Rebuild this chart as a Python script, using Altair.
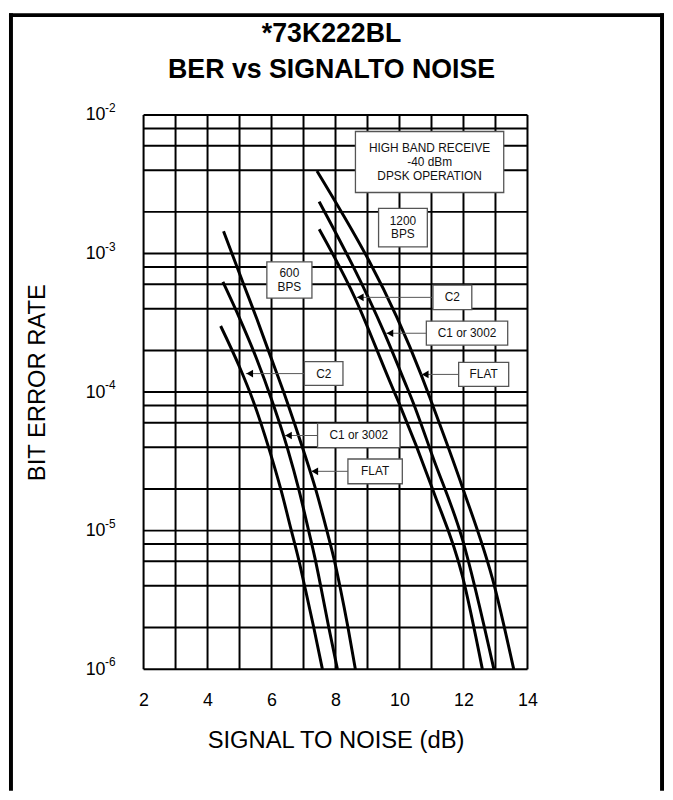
import altair as alt
import pandas as pd

FONT = "Liberation Sans"

# ---------------- data ----------------
# 600 BPS curves (x = S/N in dB, y = bit error rate)
c2_600_x = [4.41, 5.02, 5.43, 5.93, 6.30, 6.62, 6.84, 7.05, 7.32, 7.59]
c2_600_y = [3.0e-4, 1.48e-4, 8.6e-5, 3.84e-5, 1.95e-5, 1.0e-5, 6.3e-6, 3.84e-6, 2.0e-6, 1.0e-6]
c1_600_x = [4.48, 5.01, 5.53, 6.02, 6.38, 6.51, 6.86, 7.16, 7.36, 7.55, 7.79, 8.06]
c1_600_y = [6.25e-4, 3.38e-4, 1.75e-4, 8.6e-5, 4.83e-5, 3.84e-5, 1.95e-5, 1.0e-5, 6.3e-6, 3.84e-6, 2.0e-6, 1.0e-6]
flat_600_x = [4.50, 5.07, 5.54, 5.88, 6.48, 6.99, 7.39, 7.73, 7.95, 8.15, 8.39, 8.62]
flat_600_y = [1.45e-3, 6.5e-4, 3.38e-4, 2.06e-4, 8.6e-5, 3.84e-5, 1.95e-5, 1.0e-5, 6.3e-6, 3.84e-6, 2.0e-6, 1.0e-6]
# 1200 BPS curves
c2_1200_x = [7.49, 8.60, 9.70, 9.96, 11.05, 11.97, 12.59]
c2_1200_y = [1.5e-3, 4.83e-4, 1.19e-4, 8.6e-5, 1.95e-5, 4.67e-6, 1.0e-6]
c1_1200_x = [7.49, 9.54, 10.16, 10.41, 11.05, 11.97, 12.95]
c1_1200_y = [2.37e-3, 2.63e-4, 1.19e-4, 8.6e-5, 3.36e-5, 8.6e-6, 1.0e-6]
flat_1200_x = [7.42, 10.69, 10.99, 11.97, 12.97, 13.57]
flat_1200_y = [3.95e-3, 1.31e-4, 8.6e-5, 2.05e-5, 3.96e-6, 1.0e-6]

series = [
    ("600 C2", c2_600_x, c2_600_y),
    ("600 C1", c1_600_x, c1_600_y),
    ("600 FLAT", flat_600_x, flat_600_y),
    ("1200 C2", c2_1200_x, c2_1200_y),
    ("1200 C1", c1_1200_x, c1_1200_y),
    ("1200 FLAT", flat_1200_x, flat_1200_y),
]

# grid and ticks
x_grid = [2, 3, 4, 5, 6, 7, 8, 9, 10, 11, 12, 13, 14]
y_grid = [1e-6, 2e-6, 4e-6, 6e-6, 8e-6,
          1e-5, 2e-5, 4e-5, 6e-5, 8e-5,
          1e-4, 2e-4, 4e-4, 6e-4, 8e-4,
          1e-3, 2e-3, 4e-3, 6e-3, 8e-3, 1e-2]
x_ticks = [2, 4, 6, 8, 10, 12, 14]
y_ticks = [1e-6, 1e-5, 1e-4, 1e-3, 1e-2]
y_exponents = ["-6", "-5", "-4", "-3", "-2"]

title_lines = ["*73K222BL", "BER vs SIGNALTO NOISE"]

# annotation boxes
box_text = ["HIGH BAND RECEIVE\n-40 dBm\nDPSK OPERATION", "1200\nBPS", "600\nBPS",
            "C2", "C1 or 3002", "FLAT", "C2", "C1 or 3002", "FLAT"]
box_lines = [3, 2, 2, 1, 1, 1, 1, 1, 1]
box_x1 = [8.623, 9.346, 5.854, 7.028, 7.439, 8.388, 11.046, 10.839, 11.849]
box_x2 = [13.258, 10.870, 7.263, 8.233, 10.014, 10.088, 12.260, 13.382, 13.413]
box_y1 = [7.61e-3, 2.12e-3, 8.72e-4, 1.657e-4, 5.95e-5, 3.29e-5, 5.91e-4, 3.25e-4, 1.638e-4]
box_y2 = [2.76e-3, 1.117e-3, 4.77e-4, 1.117e-4, 3.98e-5, 2.18e-5, 3.94e-4, 2.18e-4, 1.098e-4]
box_xc = [10.941, 10.106, 6.558, 7.631, 8.728, 9.238, 11.652, 12.112, 12.631]
box_yc = [4.58e-3, 1.539e-3, 6.46e-4, 1.36e-4, 4.86e-5, 2.68e-5, 4.83e-4, 2.66e-4, 1.342e-4]

# arrows (tip on curve -> left edge of label box)
arrow_tip_x = [5.199, 6.410, 7.232, 8.654, 9.581, 10.684]
arrow_box_x = [7.028, 7.439, 8.388, 11.046, 10.839, 11.849]
arrow_y = [1.36e-4, 4.86e-5, 2.68e-5, 4.83e-4, 2.66e-4, 1.342e-4]

# ---------------- tables ----------------
rows = []
for name, xs, ys in series:
    for i, (a, b) in enumerate(zip(xs, ys)):
        rows.append({"series": name, "x": a, "y": b, "order": i})
curves = pd.DataFrame(rows)
boxes = pd.DataFrame({"label": box_text, "n": box_lines, "x1": box_x1, "x2": box_x2,
                      "y1": box_y1, "y2": box_y2, "xc": box_xc, "yc": box_yc})
arrows = pd.DataFrame({"xt": arrow_tip_x, "xb": arrow_box_x, "y": arrow_y})
exps = pd.DataFrame({"y": y_ticks, "e": y_exponents})

xscale = alt.Scale(domain=[2, 14], nice=False, zero=False)
yscale = alt.Scale(type="log", domain=[1e-6, 1e-2], nice=False)

xaxis = alt.Axis(values=x_ticks, grid=False, ticks=False, tickSize=0, domain=False,
                 labelFontSize=18, labelFont=FONT, labelColor="black", labelPadding=32,
                 labelBaseline="middle", labelFlush=False,
                 title="SIGNAL TO NOISE (dB)", titleFontSize=24, titleFont=FONT,
                 titleFontWeight="normal", titleColor="black", titleY=72, titleX=194,
                 titleBaseline="middle")
yaxis = alt.Axis(values=y_ticks, grid=False, ticks=False, tickSize=0, domain=False,
                 labelFontSize=18, labelFont=FONT, labelColor="black", labelPadding=39,
                 labelExpr="'10'", labelFlush=False, labelBaseline="middle",
                 title="BIT ERROR RATE", titleFontSize=24, titleFont=FONT,
                 titleFontWeight="normal", titleColor="black", titleX=-107, titleY=270,
                 titleAngle=-90, titleBaseline="middle", titleAlign="center")


def X(f):
    return alt.X(f, type="quantitative", scale=xscale, axis=xaxis)


def Y(f):
    return alt.Y(f, type="quantitative", scale=yscale, axis=yaxis)


grid_v = alt.Chart(pd.DataFrame({"x": x_grid})).mark_rule(color="black", strokeWidth=2).encode(
    x=X("x"))
grid_h = alt.Chart(pd.DataFrame({"y": y_grid})).mark_rule(color="black", strokeWidth=2).encode(
    y=Y("y"))

exp_text = alt.Chart(exps).mark_text(font=FONT, fontSize=12, color="black", align="left",
                                     baseline="middle", dy=-7).encode(
    x=alt.value(-39), y=Y("y"), text="e:N")

lines = alt.Chart(curves).mark_line(color="black", strokeWidth=3, interpolate="monotone").encode(
    x=X("x"), y=Y("y"), detail="series:N", order="order:Q")

arrow_lines = alt.Chart(arrows).mark_rule(color="#555555", strokeWidth=1).encode(
    x=X("xt"), x2="xb", y=Y("y"))
arrow_heads = alt.Chart(arrows).mark_point(shape="triangle-left", filled=True, color="black",
                                           opacity=1, size=60, xOffset=3.9).encode(
    x=X("xt"), y=Y("y"))

rects = alt.Chart(boxes).mark_rect(fill="white", stroke="#555555", strokeWidth=1.3).encode(
    x=X("x1"), x2="x2", y=Y("y1"), y2="y2")


def box_texts(n, dy):
    return alt.Chart(boxes).transform_filter(alt.datum.n == n).mark_text(
        font=FONT, fontSize=12, color="#111111", lineBreak="\n", lineHeight=13.8,
        baseline="middle", align="center", dy=dy).encode(
        x=X("xc"), y=Y("yc"), text="label:N")


texts3 = box_texts(3, -13.8)
texts2 = box_texts(2, -6.9)
texts1 = box_texts(1, 0)

one = pd.DataFrame({"a": [0]})
title1 = alt.Chart(pd.DataFrame({"t": [title_lines[0]]})).mark_text(
    font=FONT, fontSize=27, fontWeight="bold", color="black", baseline="middle", align="center").encode(
    x=alt.value(190), y=alt.value(-82), text="t:N")
title2 = alt.Chart(pd.DataFrame({"t": [title_lines[1]]})).mark_text(
    font=FONT, fontSize=27, fontWeight="bold", color="black", baseline="middle", align="center").encode(
    x=alt.value(190), y=alt.value(-45), text="t:N")

frame_l = alt.Chart(one).mark_rule(color="black", strokeWidth=4, strokeCap="square").encode(
    x=alt.value(-134), y=alt.value(-101), y2=alt.value(681))
frame_r = alt.Chart(one).mark_rule(color="black", strokeWidth=4, strokeCap="square").encode(
    x=alt.value(524), y=alt.value(-101), y2=alt.value(681))
frame_t = alt.Chart(one).mark_rule(color="black", strokeWidth=4, strokeCap="square").encode(
    x=alt.value(-134), x2=alt.value(524), y=alt.value(-101))

chart = alt.layer(
    grid_v, grid_h, exp_text, lines, arrow_lines, arrow_heads, rects, texts3, texts2, texts1,
    title1, title2, frame_l, frame_r, frame_t
).properties(
    width=388, height=560, padding=0,
).configure_view(stroke="black", strokeWidth=2).configure(background="white")

chart.save("out.html", embed_options={"renderer": "svg", "actions": False})
